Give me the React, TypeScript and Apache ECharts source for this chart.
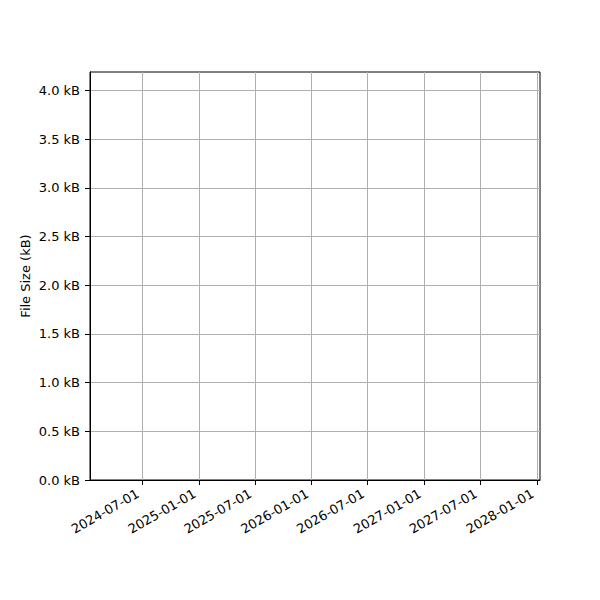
import { useEffect, useRef } from "react";
import * as echarts from "echarts";

// 日期刻度（本地时间）
const dateTicks: string[] = [
  "2024-07-01",
  "2025-01-01",
  "2025-07-01",
  "2026-01-01",
  "2026-07-01",
  "2027-01-01",
  "2027-07-01",
  "2028-01-01",
];

// 纵轴刻度 (kB)
const sizeTicks: number[] = [0, 0.5, 1.0, 1.5, 2.0, 2.5, 3.0, 3.5, 4.0];

// 空数据：图中没有任何点
const fileSizes: [number, number][] = [];

const xStart = "2024-01-14";
const xEnd = "2028-01-11";
const yMax = 4.19;

const toLocalTime = (s: string) => {
  const [y, m, d] = s.split("-").map(Number);
  return new Date(y, m - 1, d).getTime();
};

const pad = (n: number) => String(n).padStart(2, "0");

const fontFamily = "DejaVu Sans";

const App = () => {
  const chartRef = useRef<HTMLDivElement>(null);

  useEffect(() => {
    if (!chartRef.current) return;

    const chart = echarts.init(chartRef.current, undefined, { renderer: "svg" });

    // 时间用毫秒数放在数值轴上，这样可以自定义刻度
    const tickValues = dateTicks.map(toLocalTime);

    const option: echarts.EChartsOption = {
      animation: false,
      textStyle: { fontFamily },
      grid: {
        left: 90,
        top: 72,
        right: 60,
        bottom: 120,
        show: true,
        borderColor: "#000",
        borderWidth: 1,
        backgroundColor: "transparent",
      },
      xAxis: {
        type: "value",
        min: toLocalTime(xStart),
        max: toLocalTime(xEnd),
        axisLine: { onZero: false, lineStyle: { color: "#000", width: 1 } },
        axisTick: {
          show: true,
          length: 5,
          inside: false,
          customValues: tickValues,
          lineStyle: { color: "#000", width: 1 },
        },
        axisLabel: {
          customValues: tickValues,
          rotate: 30,
          margin: 10,
          padding: [0, 5, 0, 0],
          color: "#000",
          fontSize: 13,
          fontFamily,
          formatter: (v: number) => {
            const d = new Date(v);
            return `${d.getFullYear()}-${pad(d.getMonth() + 1)}-${pad(d.getDate())}`;
          },
        },
        splitLine: { show: true, lineStyle: { color: "#b0b0b0", width: 1 } },
      },
      yAxis: {
        type: "value",
        min: 0,
        max: yMax,
        name: "File Size (kB)",
        nameLocation: "middle",
        nameGap: 58,
        nameMoveOverlap: false,
        nameTextStyle: { color: "#000", fontSize: 13, fontFamily },
        axisLine: { show: true, lineStyle: { color: "#000", width: 1 } },
        axisTick: {
          show: true,
          length: 5,
          customValues: sizeTicks,
          lineStyle: { color: "#000", width: 1 },
        },
        axisLabel: {
          customValues: sizeTicks,
          margin: 10,
          color: "#000",
          fontSize: 13,
          fontFamily,
          formatter: (v: number) => `${v.toFixed(1)} kB`,
        },
        splitLine: { show: true, lineStyle: { color: "#b0b0b0", width: 1 } },
      },
      series: [
        {
          type: "line",
          data: fileSizes,
          showSymbol: false,
        },
      ],
    } as echarts.EChartsOption;

    chart.setOption(option);

    return () => {
      chart.dispose();
    };
  }, []);

  return <div ref={chartRef} style={{ width: "600px", height: "600px", margin: "-8px" }} />;
};

export default App;
